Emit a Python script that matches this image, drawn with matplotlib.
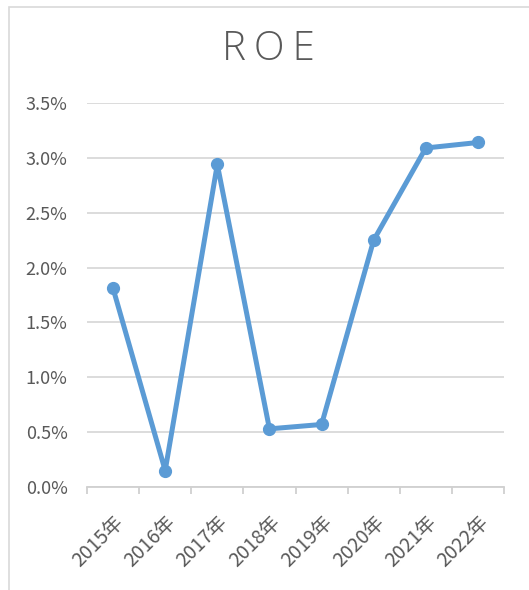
import matplotlib
matplotlib.use("Agg")
import matplotlib.pyplot as plt
from matplotlib.patches import Rectangle
from matplotlib.ticker import FuncFormatter, MultipleLocator

plt.rcParams['font.family'] = ['Noto Sans CJK SC', 'DejaVu Sans']

categories = ["2015年", "2016年", "2017年", "2018年", "2019年", "2020年", "2021年", "2022年"]
roe = [1.81, 0.15, 2.94, 0.53, 0.57, 2.25, 3.09, 3.14]
title = "ROE"

fig = plt.figure(figsize=(5.29, 5.90), dpi=100)
W, H = 529, 590
# chart frame
fig.patches.append(Rectangle((9 / W, -0.05), 1.2, 1 - 7 / H + 0.05, transform=fig.transFigure,
                             fill=False, edgecolor="#D9D9D9", linewidth=1.2))

ax = fig.add_axes([87 / W, (590 - 487) / H, 417 / W, 384 / H])
x = list(range(len(categories)))
ax.plot(x, roe, color="#5B9BD5", linewidth=3.6, marker="o", markersize=8.5,
        solid_capstyle="round", solid_joinstyle="round", zorder=3)

ax.set_xlim(-0.5, len(categories) - 0.5)
ax.set_ylim(0, 3.5)
ax.yaxis.set_major_locator(MultipleLocator(0.5))
ax.yaxis.set_major_formatter(FuncFormatter(lambda v, p: f"{v:.1f}%"))
ax.grid(axis="y", color="#D9D9D9", linewidth=1.3)
ax.set_axisbelow(True)
for s in ["top", "right", "left"]:
    ax.spines[s].set_visible(False)
ax.spines["bottom"].set_color("#D0D0D0")
ax.spines["bottom"].set_linewidth(1.3)

ax.set_xticks([i - 0.5 for i in range(len(categories) + 1)], minor=False)
ax.set_xticklabels([])
ax.tick_params(axis="x", which="major", length=5, width=1.3, color="#D0D0D0")
ax.set_xticks(x, minor=True)
ax.set_xticklabels(categories, minor=True, rotation=45, ha="right", va="top",
                   rotation_mode="anchor", fontsize=14, color="#595959")
ax.tick_params(axis="x", which="minor", length=0, pad=18)
ax.tick_params(axis="y", length=0, labelsize=13, labelcolor="#595959", pad=14)

fig.text(268 / W, 1 - 49 / H, "R\u2009O\u2009E", ha="center", va="center", fontsize=29,
         color="#595959", family=["Open Sans", "DejaVu Sans"], fontweight="light")

fig.savefig("out.png", dpi=100)
